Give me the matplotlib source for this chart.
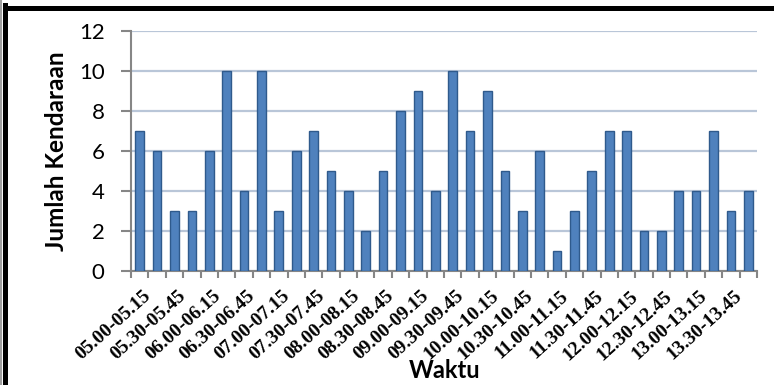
import matplotlib
matplotlib.use("Agg")
import matplotlib.pyplot as plt
import matplotlib.transforms as mtransforms
from matplotlib.lines import Line2D
import numpy as np

# Vehicle counts per 15-minute interval
intervals = [
    "05.00-05.15", "05.15-05.30", "05.30-05.45", "05.45-06.00",
    "06.00-06.15", "06.15-06.30", "06.30-06.45", "06.45-07.00",
    "07.00-07.15", "07.15-07.30", "07.30-07.45", "07.45-08.00",
    "08.00-08.15", "08.15-08.30", "08.30-08.45", "08.45-09.00",
    "09.00-09.15", "09.15-09.30", "09.30-09.45", "09.45-10.00",
    "10.00-10.15", "10.15-10.30", "10.30-10.45", "10.45-11.00",
    "11.00-11.15", "11.15-11.30", "11.30-11.45", "11.45-12.00",
    "12.00-12.15", "12.15-12.30", "12.30-12.45", "12.45-13.00",
    "13.00-13.15", "13.15-13.30", "13.30-13.45", "13.45-14.00",
]
counts = [7, 6, 3, 3, 6, 10, 4, 10, 3, 6, 7, 5, 4, 2, 5, 8, 9, 4,
          10, 7, 9, 5, 3, 6, 1, 3, 5, 7, 7, 2, 2, 4, 4, 7, 3, 4]
y_ticks = [0, 2, 4, 6, 8, 10, 12]

W, H, DPI = 774, 385, 100
fig = plt.figure(figsize=(W / DPI, H / DPI), dpi=DPI)
fig.patch.set_facecolor("white")

ax = fig.add_axes([131 / W, 1 - 271 / H, (757 - 131) / W, (271 - 31) / H])

x = np.arange(len(intervals))
ax.bar(x, counts, width=0.5, color="#4F81BD", edgecolor="#2F5A8C",
       linewidth=1.0, zorder=3)

ax.set_xlim(-0.5, len(intervals) - 0.5)
ax.set_ylim(0, 12)
ax.set_yticks(y_ticks)
ax.yaxis.grid(True, color="#B9C6D8", linewidth=1.6, zorder=0)
ax.set_axisbelow(True)

axis_grey = "#868686"
for side in ("top", "right"):
    ax.spines[side].set_visible(False)
for side in ("left", "bottom"):
    ax.spines[side].set_color(axis_grey)
    ax.spines[side].set_linewidth(1.5)

ax.tick_params(axis="y", direction="out", length=7, width=1.5,
               color=axis_grey, pad=12, labelsize=16)
for lbl in ax.get_yticklabels():
    lbl.set_family("Lato")

# Category labels on every other bar, boundary tick marks between bars
ax.set_xticks(x[::2])
ax.set_xticklabels(intervals[::2], rotation=42, ha="right", va="top",
                   rotation_mode="anchor", family="Liberation Serif",
                   fontweight="bold", fontsize=14)
ax.set_xticks(np.arange(-0.5, len(intervals), 1.0), minor=True)
ax.tick_params(axis="x", which="major", length=0, pad=12)
ax.tick_params(axis="x", which="minor", direction="out", length=5,
               width=1.5, color=axis_grey)
shift = mtransforms.ScaledTranslation(3 / DPI, 0, fig.dpi_scale_trans)
for lbl in ax.get_xticklabels():
    lbl.set_transform(lbl.get_transform() + shift)

fig.text(57 / W, 1 - 151 / H, "Jumlah Kendaraan", rotation=90,
         ha="center", va="center", family="Lato", fontweight="bold",
         fontsize=17.5)
fig.text(445 / W, 1 - 370 / H, "Waktu", ha="center", va="center",
         family="Lato", fontweight="bold", fontsize=17)

# Frame around the chart
fig.add_artist(Line2D([1 / W, 1 / W], [0, 1], transform=fig.transFigure,
                      color="#A0A0A0", linewidth=1.5))
fig.add_artist(Line2D([4.5 / W, 4.5 / W], [0, 1 - 5 / H],
                      transform=fig.transFigure, color="black",
                      linewidth=3.6, solid_capstyle="projecting"))
fig.add_artist(Line2D([4.5 / W, 1], [1 - 7.5 / H, 1 - 7.5 / H],
                      transform=fig.transFigure, color="black",
                      linewidth=3.6, solid_capstyle="projecting"))

fig.savefig("out.png", dpi=DPI, facecolor="white")
